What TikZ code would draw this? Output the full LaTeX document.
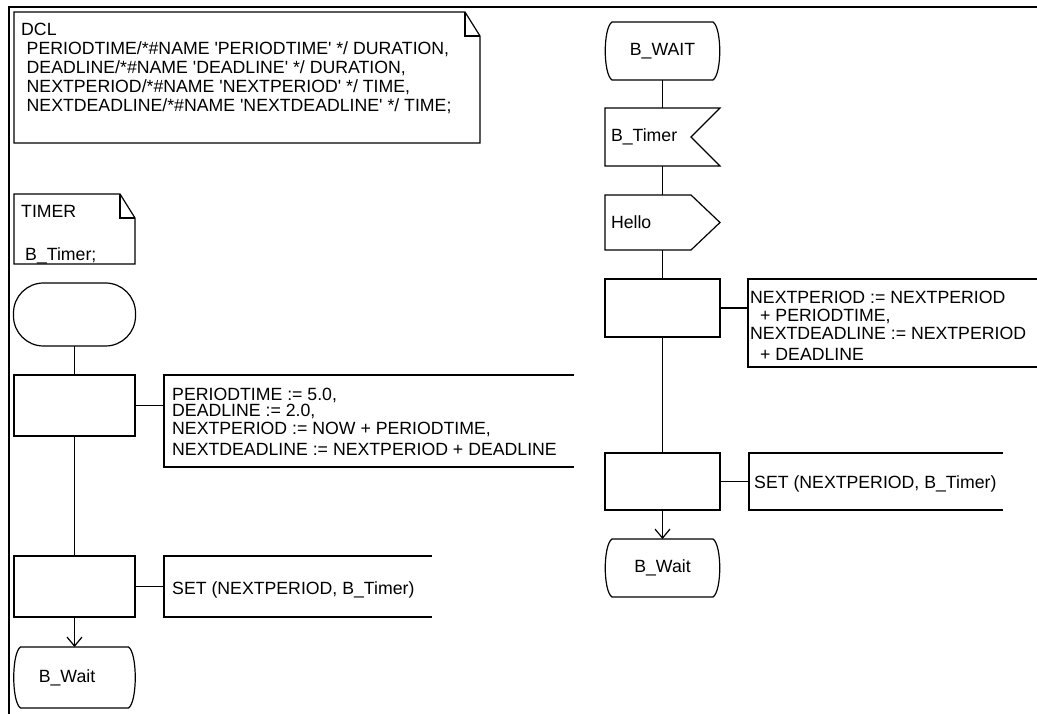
\documentclass[tikz,border=0pt]{standalone}
\usepackage{fontspec}
\setmainfont{Liberation Sans}
\usetikzlibrary{calc,arrows.meta}

\newcommand\sdlsize{\fontsize{17.7}{19}\selectfont}
\newcommand\q{\textquotesingle}

\tikzset{
  sdl/.style={line width=1.2pt},
  symbolbox/.style={inner sep=0pt, outer sep=0pt},
  taskbox/.style={symbolbox, draw, sdl},
  startbox/.style={symbolbox, draw, sdl, rounded corners=30pt},
  signalbox/.style={symbolbox, inner xsep=6pt, text width=103pt, align=left},
  textblock/.style={inner sep=0pt, align=left},
  flow/.style={sdl},
  flowarrow/.style={sdl, -{Straight Barb[length=9pt, width=15pt]}},
}

% SDL state symbol: flat top and bottom, bowed sides
\newcommand\stateoutline[1]{%
  \draw[sdl] ($(#1.north west)+(7,0)$) -- ($(#1.north east)+(-7,0)$)
    .. controls ($(#1.north east)+(2,6)$) and ($(#1.south east)+(2,-6)$) .. ($(#1.south east)+(-7,0)$)
    -- ($(#1.south west)+(7,0)$)
    .. controls ($(#1.south west)+(-2,-6)$) and ($(#1.north west)+(-2,6)$) .. ($(#1.north west)+(7,0)$)
    -- cycle;}

\begin{document}
\begin{tikzpicture}[x=1pt, y=-1pt, font=\sdlsize]
\useasboundingbox (0,0) rectangle (1037,714);

% page frame
\draw[sdl] (9,714) -- (9,7) -- (1037,7);

% ---------- declarations ----------
\draw[sdl] (14,12) -- (465,12) -- (480,36) -- (480,143) -- (14,143) -- cycle;
\draw[sdl] (465,12) -- (465,36) -- (480,36);
\node[textblock, anchor=north west] (dcl) at (21,23)
  {DCL\\
   \hspace*{5.5pt}PERIODTIME/*\#NAME \q PERIODTIME\q\ */ DURATION,\\
   \hspace*{5.5pt}DEADLINE/*\#NAME \q DEADLINE\q\ */ DURATION,\\
   \hspace*{5.5pt}NEXTPERIOD/*\#NAME \q NEXTPERIOD\q\ */ TIME,\\
   \hspace*{5.5pt}NEXTDEADLINE/*\#NAME \q NEXTDEADLINE\q\ */ TIME;};

\draw[sdl] (14,194) -- (120,194) -- (135,218) -- (135,264) -- (14,264) -- cycle;
\draw[sdl] (120,194) -- (120,218) -- (135,218);
\node[textblock, anchor=north west] (timerkw) at (21,205) {TIMER};
\node[textblock, anchor=north west] (timername) at (25,247) {B\_Timer;};

% ---------- start transition ----------
\node[startbox, minimum width=122pt, minimum height=63pt] (start) at (74.5,314.5) {};
\node[taskbox, minimum width=121pt, minimum height=61pt] (t1) at (74.5,405.5) {};
\node[taskbox, minimum width=121pt, minimum height=61pt] (t2) at (74.5,586.5) {};
\node[symbolbox, minimum width=122pt, minimum height=61pt] (w1) at (74.5,677.5) {B\_Wait\hspace*{15pt}};
\stateoutline{w1}

\draw[flow] (start.south) -- (t1.north);
\draw[flow] (t1.south) -- (t2.north);
\draw[flowarrow] (t2.south) -- (w1.north);

\coordinate (c1) at (164,405.5);
\draw[sdl] (574,375) -- (164,375) -- (164,467) -- (574,467);
\draw[flow] (t1.east) -- (c1);
\node[textblock, anchor=north west] (a1) at (172,388)
  {PERIODTIME := 5.0,\\[-3pt]
   DEADLINE := 2.0,\\[-1pt]
   NEXTPERIOD := NOW + PERIODTIME,\\[2pt]
   NEXTDEADLINE := NEXTPERIOD + DEADLINE};

\coordinate (c2) at (164,586.5);
\draw[sdl] (432,556) -- (164,556) -- (164,617) -- (432,617);
\draw[flow] (t2.east) -- (c2);
\node[textblock, anchor=base west] (a2) at (172,594) {SET (NEXTPERIOD, B\_Timer)};

% ---------- timer transition ----------
\node[symbolbox, minimum width=115pt, minimum height=58pt] (w0) at (662.5,51) {B\_WAIT};
\stateoutline{w0}

\node[signalbox, minimum height=58pt] (tin) at (662.5,137) {B\_Timer};
\draw[sdl] (tin.north west) -- (tin.north east) -- ($(tin.east)+(-29,0)$)
  -- (tin.south east) -- (tin.south west) -- cycle;

\node[signalbox, minimum height=55pt] (tout) at (662.5,222.5) {Hello};
\draw[sdl] (tout.north west) -- ($(tout.north east)+(-29,0)$) -- (tout.east)
  -- ($(tout.south east)+(-29,0)$) -- (tout.south west) -- cycle;

\node[taskbox, minimum width=115pt, minimum height=58pt] (t3) at (662.5,308) {};
\node[taskbox, minimum width=115pt, minimum height=57pt] (t4) at (662.5,481.5) {};
\node[symbolbox, minimum width=115pt, minimum height=58pt] (w2) at (662.5,568) {B\_Wait};
\stateoutline{w2}

\draw[flow] (w0.south) -- (tin.north);
\draw[flow] (tin.south) -- (tout.north);
\draw[flow] (tout.south) -- (t3.north);
\draw[flow] (t3.south) -- (t4.north);
\draw[flowarrow] (t4.south) -- (w2.north);

\coordinate (c3) at (748,308);
\draw[sdl] (1040,279) -- (748,279) -- (748,367) -- (1040,367);
\draw[flow] (t3.east) -- (c3);
\node[textblock, anchor=north west] (a3) at (750,291)
  {NEXTPERIOD := NEXTPERIOD\\[-1pt]
   \hspace*{10pt}+ PERIODTIME,\\[-1pt]
   NEXTDEADLINE := NEXTPERIOD\\[2pt]
   \hspace*{10pt}+ DEADLINE};

\coordinate (c4) at (749,481.5);
\draw[sdl] (1003,453) -- (749,453) -- (749,510) -- (1003,510);
\draw[flow] (t4.east) -- (c4);
\node[textblock, anchor=base west] (a4) at (754,488) {SET (NEXTPERIOD, B\_Timer)};
\end{tikzpicture}
\end{document}
